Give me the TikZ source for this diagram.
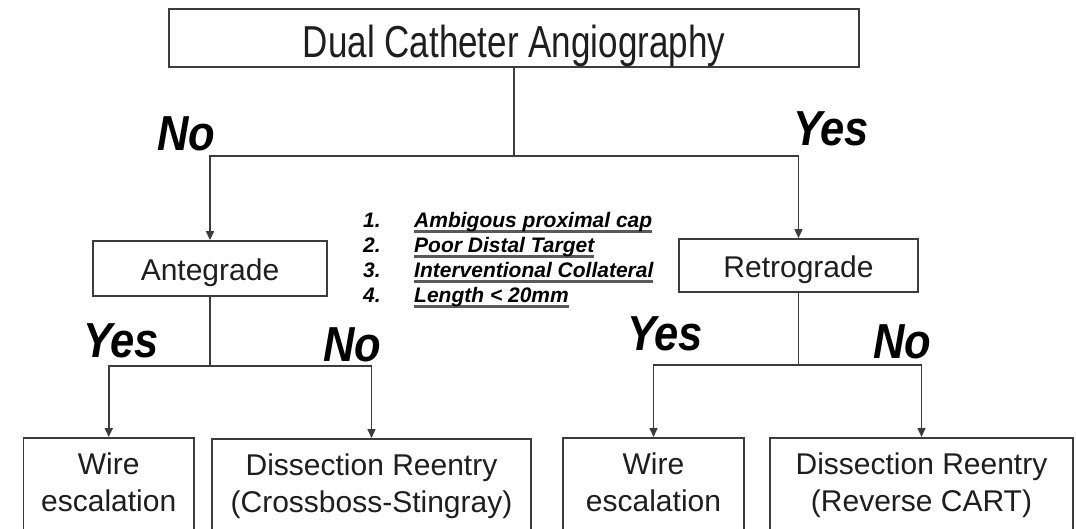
\documentclass[tikz,border=0pt]{standalone}
\usepackage{fontspec}
\setmainfont{Liberation Sans}
\usepackage{graphicx}
\usepackage{xcolor}
\usepackage{tikz}
\usetikzlibrary{positioning, arrows.meta}
\definecolor{lnGray}{HTML}{3C3C3C}
\definecolor{txtInk}{HTML}{1E1E1E}
\definecolor{ulShade}{HTML}{5A5A5A}
\newcommand{\critline}[1]{\setbox0=\hbox{#1}\rlap{\color{ulShade}\rule[-5.5pt]{\wd0}{2.6pt}}\box0}
\newcommand{\tallword}[1]{\scalebox{1}[1.13]{#1}}

\begin{document}
\begin{tikzpicture}[x=1pt, y=1pt, >={Triangle[length=9pt,width=8pt]},
          framed/.style={draw=lnGray, line width=1.8pt, inner sep=0pt, align=center,
            text=txtInk, font=\fontsize{30}{37}\selectfont},
          stage/.style={framed, text height=23pt, text depth=0pt},
          leaf/.style={framed, anchor=north, inner xsep=0pt, inner ysep=15pt, text depth=45pt},
          link/.style={line width=1.6pt, lnGray},
          answer/.style={anchor=base, font=\fontsize{43.5}{50}\selectfont\bfseries\itshape},
          crit/.style={anchor=base west, inner sep=0pt, font=\fontsize{21}{25}\selectfont\bfseries\itshape}]
        \clip (0,0) rectangle (1076,-528);
        % decision boxes
        \node[stage, minimum width=690pt, minimum height=58pt, font=\fontsize{35}{40}\selectfont,
              text height=38pt] (angio) at (514,-38) {\scalebox{1}[1.28]{Dual Catheter Angiography}};
        \node[stage, minimum width=234pt, minimum height=55pt] (ante) at (210,-268.5) {Antegrade};
        \node[stage, minimum width=239pt, minimum height=53pt] (retro) at (798.5,-265.5) {Retrograde};
        % outcome boxes
        \node[leaf, minimum width=170.5pt] (wireA) at (108.75,-437) {Wire\\escalation};
        \node[leaf, minimum width=319pt] (dissA) at (371.5,-438) {Dissection Reentry\\(Crossboss-Stingray)};
        \node[leaf, minimum width=181pt] (wireR) at (653.5,-437) {Wire\\escalation};
        \node[leaf, minimum width=303pt] (dissR) at (921.5,-437) {Dissection Reentry\\(Reverse CART)};
        % forks
        \coordinate (forkTop) at (514,-156);
        \coordinate (forkAnte) at (210,-366);
        \coordinate (forkRetro) at (798.5,-365);
        \draw[link] (angio.south) -- (forkTop);
        \draw[link, ->] (forkTop) -| (ante.north);
        \draw[link, ->] (forkTop) -| (retro.north);
        \draw[link] (ante.south) -- (forkAnte);
        \draw[link, ->] (forkAnte) -| (wireA.north);
        \draw[link, ->] (forkAnte) -| (dissA.north);
        \draw[link] (retro.south) -- (forkRetro);
        \draw[link, ->] (forkRetro) -| (wireR.north);
        \draw[link, ->] (forkRetro) -| (dissR.north);
        % answers
        \node[answer] (noTop) at (186,-150) {\tallword{No}};
        \node[answer] (yesTop) at (831,-145) {\tallword{Yes}};
        \node[answer] (yesAnte) at (121,-357) {\tallword{Yes}};
        \node[answer] (noAnte) at (352,-361) {\tallword{No}};
        \node[answer] (yesRetro) at (665,-350) {\tallword{Yes}};
        \node[answer] (noRetro) at (902,-358) {\tallword{No}};
        % criteria
        \node[crit] (n1) at (363,-227) {1.};
        \node[crit] (n2) at (363,-252) {2.};
        \node[crit] (n3) at (363,-277) {3.};
        \node[crit] (n4) at (363,-302) {4.};
        \node[crit] (c1) at (414,-227) {\critline{Ambigous proximal cap}};
        \node[crit] (c2) at (414,-252) {\critline{Poor Distal Target}};
        \node[crit] (c3) at (414,-277) {\critline{Interventional Collateral}};
        \node[crit] (c4) at (414,-302) {\critline{Length < 20mm}};
      \end{tikzpicture}
\end{document}
